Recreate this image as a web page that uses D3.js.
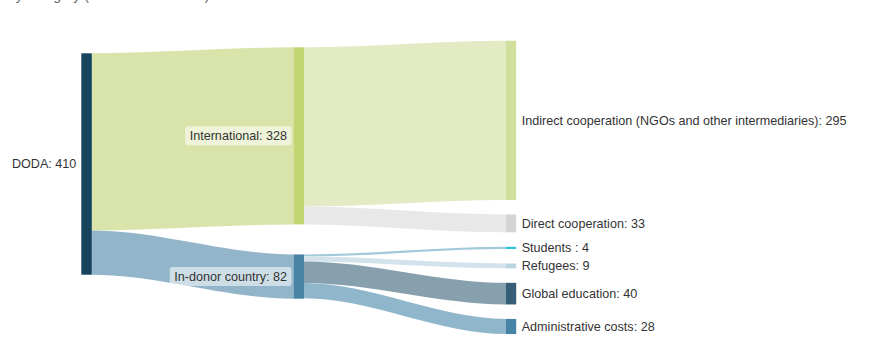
<!DOCTYPE html>
<html>
<head>
<meta charset="utf-8">
<script src="https://cdn.jsdelivr.net/npm/d3@7"></script>
<style>
  html, body { margin: 0; padding: 0; background: #ffffff; }
  svg { display: block; font-family: "Liberation Sans", Arial, Helvetica, sans-serif; }
</style>
</head>
<body>
<svg id="chart" width="888" height="351"></svg>
<script>
// Flow of DODA funds by category (million EUR)
const nodeNames = [
  "DODA",
  "International",
  "In-donor country",
  "Indirect cooperation (NGOs and other intermediaries)",
  "Direct cooperation",
  "Students ",
  "Refugees",
  "Global education",
  "Administrative costs"
];
const linkSources = [0, 0, 1, 1, 2, 2, 2, 2];
const linkTargets = [1, 2, 3, 4, 5, 6, 7, 8];
const linkValues  = [328, 82, 295, 33, 4, 9, 40, 28];

// colour of each node bar and of each link band
const nodeColors = ["#16435e", "#c3d573", "#4a84a4", "#d1df9c", "#d4d4d4", "#2ec4d9", "#b9d3e1", "#365e77", "#4884a7"];
const linkColors = ["#d9e4ab", "#93b5c9", "#e3ebc5", "#e8e8e8", "#a3cadb", "#d3e2eb", "#87a0ae", "#8fb6cb"];

const titleText = "by category (in millions of euros)";

// ---- layout ----
const svg = d3.select("#chart");
const nodeWidth = 10.5;
const columnTop = [53.3, 47.3, 40.7];
const columnPadding = [0, 30, 14.5];
const curveFactor = 0.33;
const labelSize = 12.6;

const nodes = nodeNames.map((name, i) => ({ index: i, name, inLinks: [], outLinks: [], depth: 0 }));
const links = linkValues.map((v, i) => ({ source: nodes[linkSources[i]], target: nodes[linkTargets[i]], value: v, color: linkColors[i] }));
links.forEach(l => { l.source.outLinks.push(l); l.target.inLinks.push(l); });

// depth by longest path from the root
nodes.forEach(n => {
  n.depth = n.inLinks.length ? d3.max(n.inLinks, l => l.source.depth + 1) : 0;
});
nodes.forEach(n => {
  n.value = Math.max(d3.sum(n.inLinks, l => l.value), d3.sum(n.outLinks, l => l.value));
});

const maxDepth = d3.max(nodes, n => n.depth);
const x = d3.scaleLinear().domain([0, maxDepth]).range([81.3, 505.7]);
const h = d3.scaleLinear().domain([0, 410]).range([0, 221.4]);

const columns = d3.groups(nodes, n => n.depth).sort((a, b) => a[0] - b[0]);
columns.forEach(([depth, col]) => {
  let y = columnTop[depth];
  col.forEach(n => {
    n.x0 = x(depth);
    n.x1 = n.x0 + nodeWidth;
    n.y0 = y;
    n.y1 = y + h(n.value);
    y = n.y1 + columnPadding[depth];
  });
});

// stack links on each node
nodes.forEach(n => {
  let sy = n.y0;
  n.outLinks.forEach(l => { l.sy0 = sy; sy += h(l.value); l.sy1 = sy; });
  let ty = n.y0;
  n.inLinks.forEach(l => { l.ty0 = ty; ty += h(l.value); l.ty1 = ty; });
});

function bandPath(l) {
  const x0 = l.source.x1, x1 = l.target.x0;
  const c = (x1 - x0) * curveFactor;
  return `M${x0},${l.sy0}C${x0 + c},${l.sy0} ${x1 - c},${l.ty0} ${x1},${l.ty0}` +
         `L${x1},${l.ty1}C${x1 - c},${l.ty1} ${x0 + c},${l.sy1} ${x0},${l.sy1}Z`;
}

// title (its upper part lies above the visible area)
svg.append("text")
  .attr("x", 8).attr("y", 0)
  .attr("font-size", 14)
  .attr("fill", "#666666")
  .text(titleText);

svg.append("g").attr("class", "links")
  .selectAll("path").data(links).join("path")
  .attr("d", bandPath)
  .attr("fill", d => d.color);

svg.append("g").attr("class", "nodes")
  .selectAll("rect").data(nodes).join("rect")
  .attr("x", d => d.x0).attr("y", d => d.y0)
  .attr("width", d => d.x1 - d.x0)
  .attr("height", d => Math.max(1, d.y1 - d.y0))
  .attr("fill", (d, i) => nodeColors[i]);

// labels
const labels = svg.append("g").attr("class", "labels")
  .attr("font-size", labelSize).attr("fill", "#333333");

nodes.forEach(n => {
  const text = `${n.name}: ${n.value}`;
  const cy = (n.y0 + n.y1) / 2;
  if (n.depth === maxDepth) {
    labels.append("text")
      .attr("x", n.x1 + 5.5).attr("y", cy).attr("dy", "0.35em")
      .text(text);
  } else if (n.depth === 0) {
    labels.append("text")
      .attr("x", n.x0 - 5).attr("y", cy).attr("dy", "0.35em")
      .attr("text-anchor", "end")
      .text(text);
  } else {
    const g = labels.append("g");
    const box = g.append("rect");
    const t = g.append("text")
      .attr("x", n.x0 - 6.5).attr("y", cy).attr("dy", "0.35em")
      .attr("text-anchor", "end")
      .text(text);
    const b = t.node().getBBox();
    box.attr("x", b.x - 4.5).attr("y", cy - 9.5)
      .attr("width", b.width + 9).attr("height", 19)
      .attr("rx", 3).attr("ry", 3)
      .attr("fill", "#ffffff").attr("fill-opacity", 0.55);
  }
});
</script>
</body>
</html>
